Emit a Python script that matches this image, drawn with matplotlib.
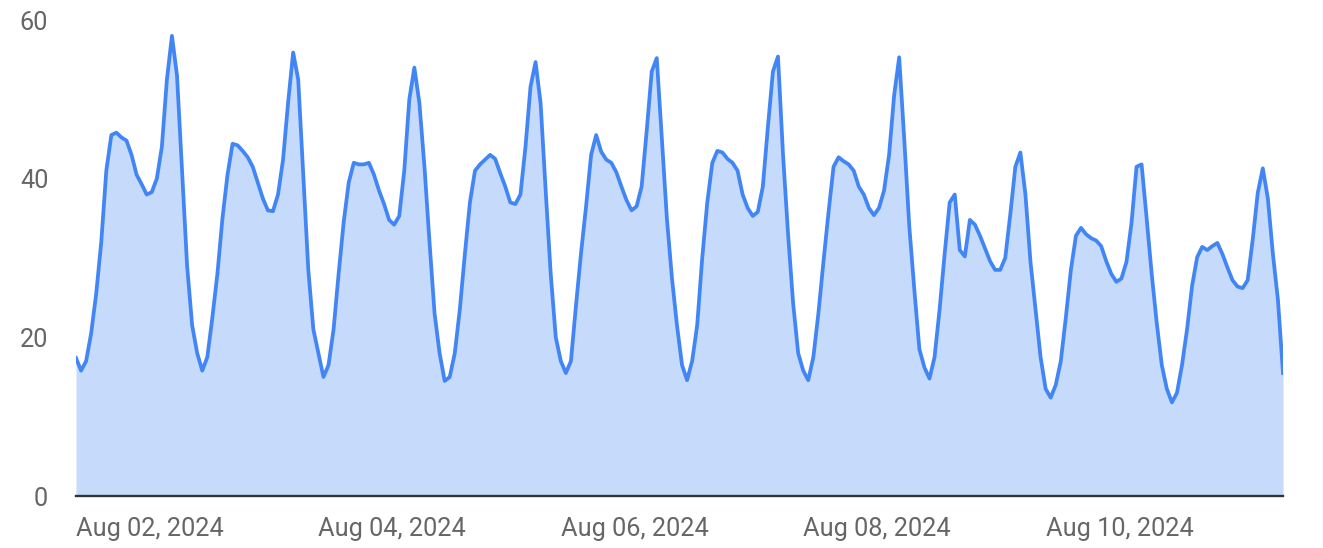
import matplotlib
matplotlib.use("Agg")
import matplotlib.pyplot as plt
import numpy as np
import pandas as pd

# hourly values, one list per day (Aug 02 .. Aug 11, 2024)
aug02 = [17.4, 15.8, 17.0, 20.5, 25.5, 32.0, 41.0, 45.5, 45.8, 45.2, 44.8, 43.0,
         40.5, 39.3, 38.0, 38.3, 40.0, 44.0, 52.5, 58.0, 53.0, 41.0, 29.0, 21.5]
aug03 = [18.0, 15.8, 17.5, 22.5, 28.0, 35.0, 40.5, 44.4, 44.2, 43.5, 42.7, 41.5,
         39.5, 37.5, 36.0, 35.9, 38.0, 42.4, 49.6, 55.9, 52.5, 40.5, 28.5, 21.0]
aug04 = [18.0, 15.0, 16.5, 21.0, 28.0, 34.5, 39.5, 42.0, 41.8, 41.8, 42.0, 40.5,
         38.5, 36.8, 34.8, 34.2, 35.3, 41.0, 50.0, 54.0, 49.5, 41.5, 32.0, 23.0]
aug05 = [18.0, 14.5, 15.0, 18.0, 23.5, 30.5, 37.0, 41.0, 41.8, 42.4, 43.0, 42.5,
         40.7, 39.0, 37.0, 36.8, 38.0, 44.0, 51.6, 54.7, 49.5, 38.5, 28.0, 20.0]
aug06 = [17.0, 15.5, 17.0, 24.0, 30.6, 36.5, 43.0, 45.5, 43.4, 42.4, 42.0, 40.8,
         39.0, 37.3, 36.0, 36.5, 39.0, 46.0, 53.5, 55.2, 45.0, 35.0, 27.5, 21.5]
aug07 = [16.5, 14.6, 17.0, 21.5, 30.0, 37.0, 42.0, 43.5, 43.3, 42.5, 42.0, 41.0,
         38.0, 36.3, 35.3, 35.8, 39.0, 46.5, 53.5, 55.4, 43.0, 33.0, 24.3, 18.0]
aug08 = [15.8, 14.6, 17.5, 23.0, 29.5, 35.7, 41.5, 42.7, 42.2, 41.8, 41.0, 39.0,
         38.0, 36.3, 35.4, 36.3, 38.5, 43.0, 50.5, 55.3, 45.0, 34.0, 26.0, 18.5]
aug09 = [16.2, 14.8, 17.5, 23.5, 30.5, 37.0, 38.0, 31.0, 30.2, 34.8, 34.2, 32.8,
         31.2, 29.6, 28.5, 28.5, 30.0, 35.5, 41.5, 43.3, 38.0, 29.5, 23.5, 17.5]
aug10 = [13.5, 12.4, 14.0, 17.0, 22.5, 28.5, 32.8, 33.8, 33.0, 32.5, 32.2, 31.5,
         29.6, 28.0, 27.0, 27.4, 29.5, 34.4, 41.5, 41.8, 35.0, 28.0, 21.8, 16.5]
aug11 = [13.5, 11.8, 13.0, 16.5, 21.0, 26.5, 30.1, 31.4, 31.0, 31.5, 31.9, 30.5,
         28.8, 27.2, 26.4, 26.2, 27.2, 32.3, 38.2, 41.3, 37.5, 30.5, 24.7, 15.5]

values = aug02 + aug03 + aug04 + aug05 + aug06 + aug07 + aug08 + aug09 + aug10 + aug11
times = pd.date_range("2024-08-02 00:00", periods=len(values), freq="h")

tick_dates = pd.to_datetime(["2024-08-02", "2024-08-04", "2024-08-06", "2024-08-08", "2024-08-10"])
tick_labels = ["Aug 02, 2024", "Aug 04, 2024", "Aug 06, 2024", "Aug 08, 2024", "Aug 10, 2024"]
y_ticks = [0, 20, 40, 60]

plt.rcParams['font.family'] = ['Roboto', 'DejaVu Sans']

fig = plt.figure(figsize=(13.23, 5.48), dpi=100)
ax = fig.add_axes([76/1323, 52/548, (1283-76)/1323, 476/548])

ax.fill_between(times, values, 0, color="#c6dafc", linewidth=0)
ax.plot(times, values, color="#4285f4", linewidth=2.7, solid_joinstyle="round")

ax.set_xlim(times[0], times[-1])
ax.set_ylim(0, 60)

ax.set_yticks(y_ticks)
ax.set_yticklabels([str(v) for v in y_ticks])
ax.set_xticks(tick_dates)
ax.set_xticklabels(tick_labels, ha="left")

ax.tick_params(axis="both", length=0, labelsize=18.2, labelcolor="#666666")
ax.tick_params(axis="x", pad=15)
ax.tick_params(axis="y", pad=20)

for side in ["top", "right", "left"]:
    ax.spines[side].set_visible(False)
ax.spines["bottom"].set_color("#2f3437")
ax.spines["bottom"].set_linewidth(1.7)
ax.spines["bottom"].set_zorder(5)

fig.savefig("out.png", dpi=100)
